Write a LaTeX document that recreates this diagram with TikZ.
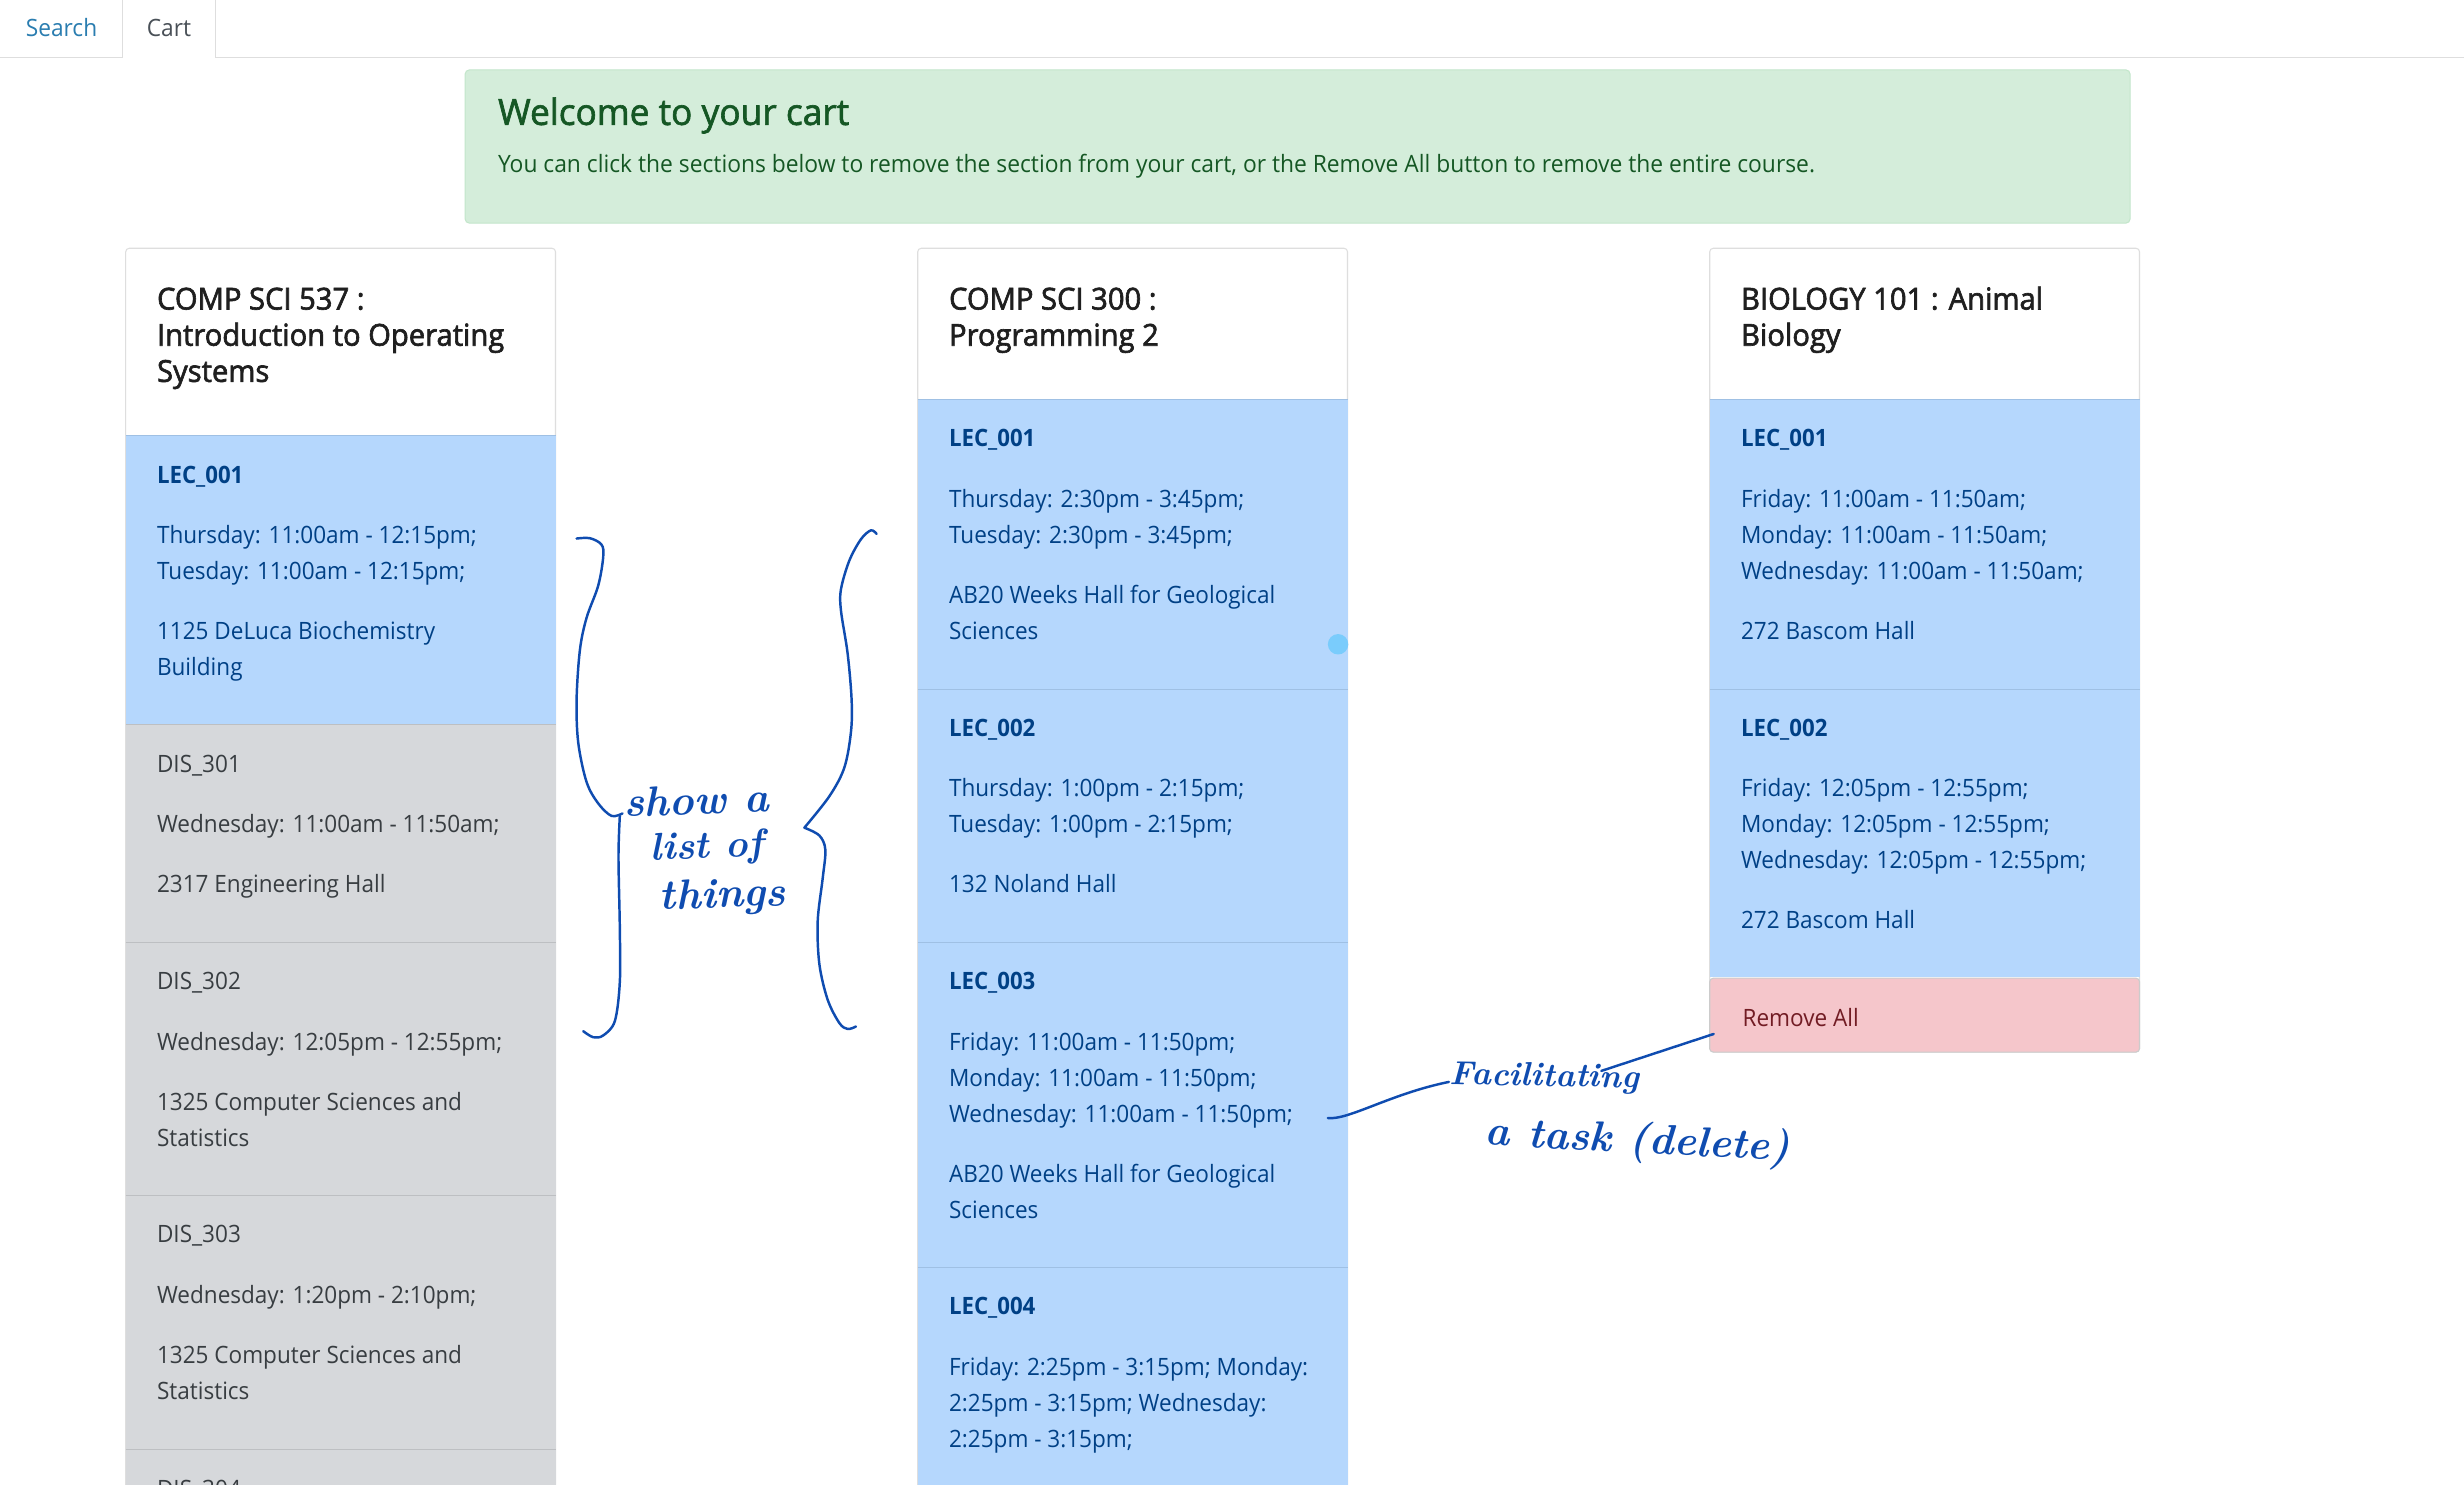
\documentclass[tikz,border=0pt]{standalone}
\usepackage{fontspec}
\newfontfamily\ui[FakeStretch=0.943]{Open Sans}
\newfontfamily\uiwide[FakeStretch=0.955]{Open Sans}
\newfontfamily\uitab[FakeStretch=0.95]{Open Sans}
\newfontfamily\uihead[FakeStretch=0.93]{Open Sans}
\newfontfamily\uititle[FakeStretch=0.965]{Open Sans}
\newfontfamily\uiwelcome[FakeStretch=0.975]{Open Sans}
\newcommand\heavier[1]{\special{pdf:code q 2 Tr 0.18 w}#1\special{pdf:code Q}}
\definecolor{itemblue}{HTML}{B5D7FD}
\definecolor{itemgray}{HTML}{D6D8DB}
\definecolor{itempink}{HTML}{F5C6CB}
\definecolor{alertgreen}{HTML}{D4EDDA}
\definecolor{alertline}{HTML}{C3E6CB}
\definecolor{txgreen}{HTML}{155724}
\definecolor{txblue}{HTML}{004085}
\definecolor{txgray}{HTML}{383D41}
\definecolor{txpink}{HTML}{721C24}
\definecolor{txlink}{HTML}{2A7DB0}
\definecolor{txtab}{HTML}{495057}
\definecolor{rule}{HTML}{DEDEDE}
\definecolor{sepblue}{HTML}{9FC0E4}
\definecolor{sepgray}{HTML}{BDBFC2}
\definecolor{ink}{HTML}{0F4CB0}
\definecolor{dotblue}{HTML}{7ACCFC}
\tikzset{
  body/.style={anchor=base west,inner sep=0pt,font=\ui\fontsize{6.8}{8}\selectfont},
  bodyb/.style={body,text=txblue},
  bodyg/.style={body,text=txgray},
  bluehead/.style={body,text=txblue,font=\uihead\bfseries\fontsize{6.8}{8}\selectfont},
  cardtitle/.style={body,text=black!88,font=\uititle\fontsize{8.6}{10}\selectfont},
  hand/.style={anchor=center,inner sep=0pt,text=ink},
  pen/.style={draw=ink,line width=0.7pt,line cap=round,line join=round},
  cardbox/.style={draw=rule,line width=0.3pt,fill=white,rounded corners=1pt},
  blueitem/.style={fill=itemblue,draw=none},
  grayitem/.style={fill=itemgray,draw=none},
  sep/.style={line width=0.3pt},
}
\newcommand\bl[4]{\node[bodyb] (#1) at (#2,#3+6) {#4};}
\newcommand\gl[4]{\node[bodyg] (#1) at (#2,#3+6) {#4};}
\newcommand\hb[4]{\node[bluehead] (#1) at (#2,#3+5.4) {#4};}
\newcommand\ct[4]{\node[cardtitle] (#1) at (#2,#3+7) {\heavier{#4}};}
\begin{document}
\begin{tikzpicture}[x=0.015714cm,y=-0.015714cm]
\useasboundingbox (0,0) rectangle (1568,944.38);
\clip (0,0) rectangle (1568,944.38);
\fill[white] (0,0) rectangle (1568,944.38);
% tabs
\draw[rule,line width=0.3pt] (0,36.5) -- (78,36.5) -- (78,0);
\draw[rule,line width=0.3pt] (137,0) -- (137,36.5) -- (1568,36.5);
\node[body,text=txlink,font=\uitab\fontsize{6.8}{8}\selectfont] (tabsearch) at (16,23.5) {Search};
\node[body,text=txtab,font=\uitab\fontsize{6.8}{8}\selectfont] (tabcart) at (93,23.5) {Cart};
% alert
\draw[fill=alertgreen,draw=alertline,line width=0.3pt,rounded corners=1.2pt] (296,44.5) rectangle (1355.5,142);
\node[body,text=txgreen,font=\uiwelcome\fontsize{10.3}{12}\selectfont] (welcome) at (316.5,79.5) {\heavier{Welcome to your cart}};
\node[body,text=txgreen,font=\uiwide\fontsize{6.8}{8}\selectfont] (intro) at (316.5,110) {You can click the sections below to remove the section from your cart, or the Remove All button to remove the entire course.};
% left card
\draw[cardbox] (80,158) rectangle (353.5,960);
\fill[blueitem] (80,277) rectangle (353.5,461);
\fill[grayitem] (80,461) rectangle (353.5,960);
\draw[sep,draw=sepblue] (80,277) -- (353.5,277);
\foreach \yy in {461,599.5,761,922.5} \draw[sep,draw=sepgray] (80,\yy) -- (353.5,\yy);
\ct{a1}{99.5}{190}{COMP SCI 537 :}
\ct{a2}{99.5}{213}{Introduction to Operating}
\ct{a3}{99.5}{236}{Systems}
\hb{a4}{99.5}{302}{LEC\_001}
\bl{a5}{99.5}{340}{Thursday: 11:00am - 12:15pm;}
\bl{a6}{99.5}{363}{Tuesday: 11:00am - 12:15pm;}
\bl{a7}{99.5}{401}{1125 DeLuca Biochemistry}
\bl{a8}{99.5}{424}{Building}
\gl{a9}{99.5}{485.5}{DIS\_301}
\gl{a10}{99.5}{524}{Wednesday: 11:00am - 11:50am;}
\gl{a11}{99.5}{562}{2317 Engineering Hall}
\gl{a12}{99.5}{624}{DIS\_302}
\gl{a13}{99.5}{662.5}{Wednesday: 12:05pm - 12:55pm;}
\gl{a14}{99.5}{701}{1325 Computer Sciences and}
\gl{a15}{99.5}{723.5}{Statistics}
\gl{a16}{99.5}{785}{DIS\_303}
\gl{a17}{99.5}{823.5}{Wednesday: 1:20pm - 2:10pm;}
\gl{a18}{99.5}{862}{1325 Computer Sciences and}
\gl{a19}{99.5}{884.5}{Statistics}
\gl{a20}{99.5}{947}{DIS\_304}
% middle card
\draw[cardbox] (584,158) rectangle (857.5,960);
\fill[blueitem] (584,254) rectangle (857.5,960);
\foreach \yy in {254,438.5,599.5,806.5} \draw[sep,draw=sepblue] (584,\yy) -- (857.5,\yy);
\ct{b1}{603.5}{190}{COMP SCI 300 :}
\ct{b2}{603.5}{213}{Programming 2}
\hb{b3}{603.5}{279}{LEC\_001}
\bl{b4}{603.5}{317}{Thursday: 2:30pm - 3:45pm;}
\bl{b5}{603.5}{340}{Tuesday: 2:30pm - 3:45pm;}
\bl{b6}{603.5}{378}{AB20 Weeks Hall for Geological}
\bl{b7}{603.5}{401}{Sciences}
\hb{b8}{603.5}{463}{LEC\_002}
\bl{b9}{603.5}{501}{Thursday: 1:00pm - 2:15pm;}
\bl{b10}{603.5}{524}{Tuesday: 1:00pm - 2:15pm;}
\bl{b11}{603.5}{562}{132 Noland Hall}
\hb{b12}{603.5}{624.5}{LEC\_003}
\bl{b13}{603.5}{662.5}{Friday: 11:00am - 11:50pm;}
\bl{b14}{603.5}{685.5}{Monday: 11:00am - 11:50pm;}
\bl{b15}{603.5}{708.5}{Wednesday: 11:00am - 11:50pm;}
\bl{b16}{603.5}{746.5}{AB20 Weeks Hall for Geological}
\bl{b17}{603.5}{769.5}{Sciences}
\hb{b18}{603.5}{831}{LEC\_004}
\bl{b19}{603.5}{869}{Friday: 2:25pm - 3:15pm; Monday:}
\bl{b20}{603.5}{892}{2:25pm - 3:15pm; Wednesday:}
\bl{b21}{603.5}{915}{2:25pm - 3:15pm;}
% right card
\draw[cardbox] (1088,158) rectangle (1361.5,669.5);
\fill[blueitem] (1088,254) rectangle (1361.5,622);
\draw[fill=itempink,draw=black!20,line width=0.3pt,rounded corners=1pt] (1088,622.5) rectangle (1361.5,669.5);
\foreach \yy in {254,438.5} \draw[sep,draw=sepblue] (1088,\yy) -- (1361.5,\yy);
\ct{c1}{1107.5}{190}{BIOLOGY 101 : Animal}
\ct{c2}{1107.5}{213}{Biology}
\hb{c3}{1107.5}{279}{LEC\_001}
\bl{c4}{1107.5}{317}{Friday: 11:00am - 11:50am;}
\bl{c5}{1107.5}{340}{Monday: 11:00am - 11:50am;}
\bl{c6}{1107.5}{363}{Wednesday: 11:00am - 11:50am;}
\bl{c7}{1107.5}{401}{272 Bascom Hall}
\hb{c8}{1107.5}{463}{LEC\_002}
\bl{c9}{1107.5}{501}{Friday: 12:05pm - 12:55pm;}
\bl{c10}{1107.5}{524}{Monday: 12:05pm - 12:55pm;}
\bl{c11}{1107.5}{547}{Wednesday: 12:05pm - 12:55pm;}
\bl{c12}{1107.5}{585}{272 Bascom Hall}
\node[body,text=txpink] (removeall) at (1108.5,653) {Remove All};
% dot
\fill[dotblue] (851.5,410) circle (6.5);
% handwriting as real text
\node[hand,font=\bfseries\itshape\fontsize{12}{15}\selectfont,rotate=2] (hw1) at (443,509) {show a};
\node[hand,font=\bfseries\itshape\fontsize{11}{13}\selectfont,rotate=2] (hw2) at (450,540) {list of};
\node[hand,font=\bfseries\itshape\fontsize{12}{15}\selectfont,rotate=2] (hw3) at (460,571) {things};
\node[hand,font=\bfseries\itshape\fontsize{9.5}{13}\selectfont,rotate=-1] (hw4) at (983,686) {Facilitating};
\node[hand,font=\bfseries\itshape\fontsize{12}{16}\selectfont,rotate=-3] (hw5) at (1042,727) {a task (delete)};
% braces
\begin{scope}[shift={(343.64,318.19)},x=0.0033333cm,y=-0.0035714cm]
\draw[pen] plot[smooth,tension=0.55] coordinates {(110,108) (150,107) (185,125) (190,160) (175,240) (140,330) (120,420) (110,560) (115,680) (140,790) (175,850) (215,885) (248,878)};
\draw[pen] plot[smooth,tension=0.55] coordinates {(240,885) (236,1000) (240,1200) (240,1350) (225,1460) (190,1500) (160,1505) (130,1488)};
\draw[pen] plot[smooth,tension=0.55] coordinates {(1012,95) (995,85) (965,110) (930,170) (905,250) (905,310) (925,430) (937,560) (935,650) (915,750) (870,830) (795,918)};
\draw[pen] plot[smooth,tension=0.55] coordinates {(795,918) (840,940) (858,980) (850,1060) (835,1180) (840,1300) (865,1400) (900,1465) (925,1482) (950,1475)};
\end{scope}
% connectors
\coordinate (l3end) at (845,711.5);
\coordinate (facleft) at (922,688.5);
\coordinate (facright) at (1019,681.5);
\coordinate (rmend) at (1090.5,658);
\draw[pen] (l3end) .. controls (858,713) and (885,696) .. (facleft);
\draw[pen] (facright) -- (rmend);
\end{tikzpicture}
\end{document}
